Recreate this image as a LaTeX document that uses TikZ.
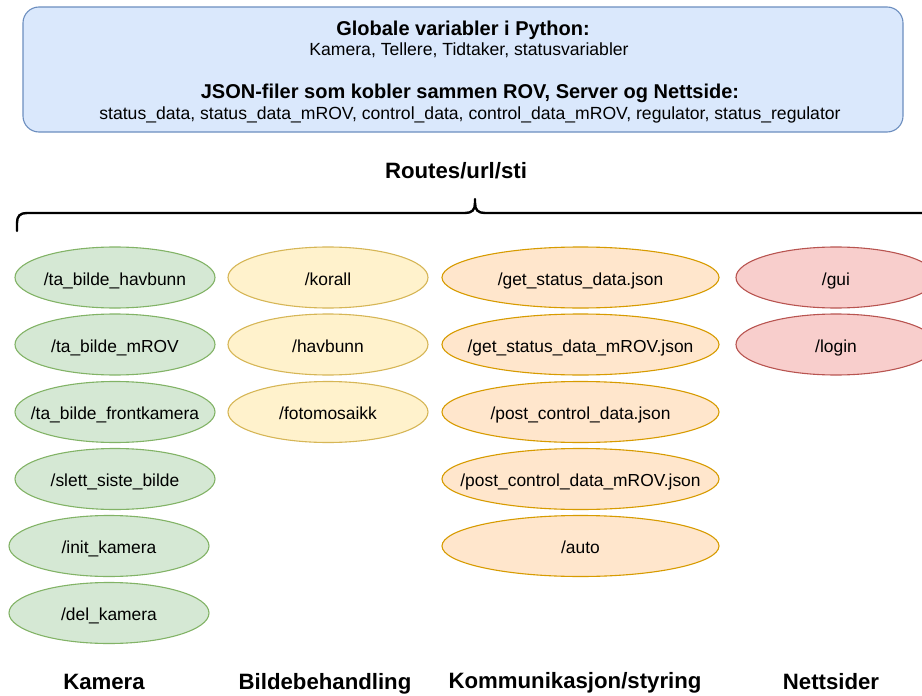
\documentclass[tikz,border=0pt]{standalone}
\usepackage{fontspec}
\setmainfont{Liberation Sans}
\usetikzlibrary{shapes.geometric}
\definecolor{blaafyll}{HTML}{DAE8FC}
\definecolor{blaastrek}{HTML}{6C8EBF}
\definecolor{groennfyll}{HTML}{D5E8D4}
\definecolor{groennstrek}{HTML}{82B366}
\definecolor{gulfyll}{HTML}{FFF2CC}
\definecolor{gulstrek}{HTML}{D6B656}
\definecolor{oransjefyll}{HTML}{FFE6CC}
\definecolor{oransjestrek}{HTML}{D79B00}
\definecolor{roedfyll}{HTML}{F8CECC}
\definecolor{roedstrek}{HTML}{B85450}
\newcommand{\rutetekst}[1]{\makebox[0pt]{#1}}
\begin{document}
\begin{tikzpicture}[x=1pt,y=-1pt,
  rute/.style={ellipse,draw,line width=1.1pt,minimum width=200pt,
    minimum height=61pt,inner sep=0pt,text height=15pt,text depth=0pt,
    font=\fontsize{17.4}{20}\selectfont},
  kamerarute/.style={rute,fill=groennfyll,draw=groennstrek},
  bilderute/.style={rute,fill=gulfyll,draw=gulstrek},
  kommrute/.style={rute,fill=oransjefyll,draw=oransjestrek,minimum width=277pt},
  nettrute/.style={rute,fill=roedfyll,draw=roedstrek},
  tittel/.style={font=\bfseries\fontsize{20}{24}\selectfont},
  brodtekst/.style={font=\fontsize{17.6}{20}\selectfont},
  gruppe/.style={anchor=base,font=\bfseries\fontsize{22.2}{26}\selectfont}]
\clip (0,0) rectangle (922,696);
\node[draw=blaastrek,fill=blaafyll,line width=1.1pt,rounded corners=16pt,
  minimum width=880pt,minimum height=125pt] (globalt) at (463,69.5) {};
\node[tittel] (pytittel) at (463,30) {Globale variabler i Python:};
\node[brodtekst] (pytekst) at (469,50) {Kamera, Tellere, Tidtaker, statusvariabler};
\node[tittel] (jsontittel) at (470,93) {JSON-filer som kobler sammen ROV, Server og Nettside:};
\node[brodtekst] (jsontekst) at (470,115) {status\_data, status\_data\_mROV, control\_data, control\_data\_mROV, regulator, status\_regulator};
\node[gruppe,anchor=center] (ruter) at (456,171) {Routes/url/sti};
\draw[line width=2.4pt,line cap=round]
  (17,231) -- (17,223) .. controls (17,216) and (20,213) .. (27,213)
  -- (465,213) .. controls (472,213) and (475,210) .. (475,203) -- (475,199);
\draw[line width=2.4pt,line cap=round]
  (475,203) .. controls (475,210) and (478,213) .. (485,213) -- (930,213);
\node[kamerarute] (havbunnbilde) at (115,277.5) {\rutetekst{/ta\_bilde\_havbunn}};
\node[kamerarute] (mrovbilde) at (115,344.5) {\rutetekst{/ta\_bilde\_mROV}};
\node[kamerarute] (frontbilde) at (115,412) {\rutetekst{/ta\_bilde\_frontkamera}};
\node[kamerarute] (slett) at (115,479) {\rutetekst{/slett\_siste\_bilde}};
\node[kamerarute] (initkamera) at (109,546) {\rutetekst{/init\_kamera}};
\node[kamerarute] (delkamera) at (109,613) {\rutetekst{/del\_kamera}};
\node[bilderute] (korall) at (328,277.5) {\rutetekst{/korall}};
\node[bilderute] (havbunn) at (328,344.5) {\rutetekst{/havbunn}};
\node[bilderute] (fotomosaikk) at (328,412) {\rutetekst{/fotomosaikk}};
\node[kommrute] (getstatus) at (580.5,277.5) {\rutetekst{/get\_status\_data.json}};
\node[kommrute] (getstatusmrov) at (580.5,344.5) {\rutetekst{/get\_status\_data\_mROV.json}};
\node[kommrute] (postcontrol) at (580.5,412) {\rutetekst{/post\_control\_data.json}};
\node[kommrute] (postcontrolmrov) at (580.5,479) {\rutetekst{/post\_control\_data\_mROV.json}};
\node[kommrute] (auto) at (580.5,546) {\rutetekst{/auto}};
\node[nettrute] (gui) at (836,277.5) {\rutetekst{/gui}};
\node[nettrute] (login) at (836,344.5) {\rutetekst{/login}};
\node[gruppe] (kamera) at (104,689) {Kamera};
\node[gruppe] (bildebehandling) at (325,689) {Bildebehandling};
\node[gruppe] (kommunikasjon) at (575,688) {Kommunikasjon/styring};
\node[gruppe] (nettsider) at (831,689) {Nettsider};
\end{tikzpicture}
\end{document}
